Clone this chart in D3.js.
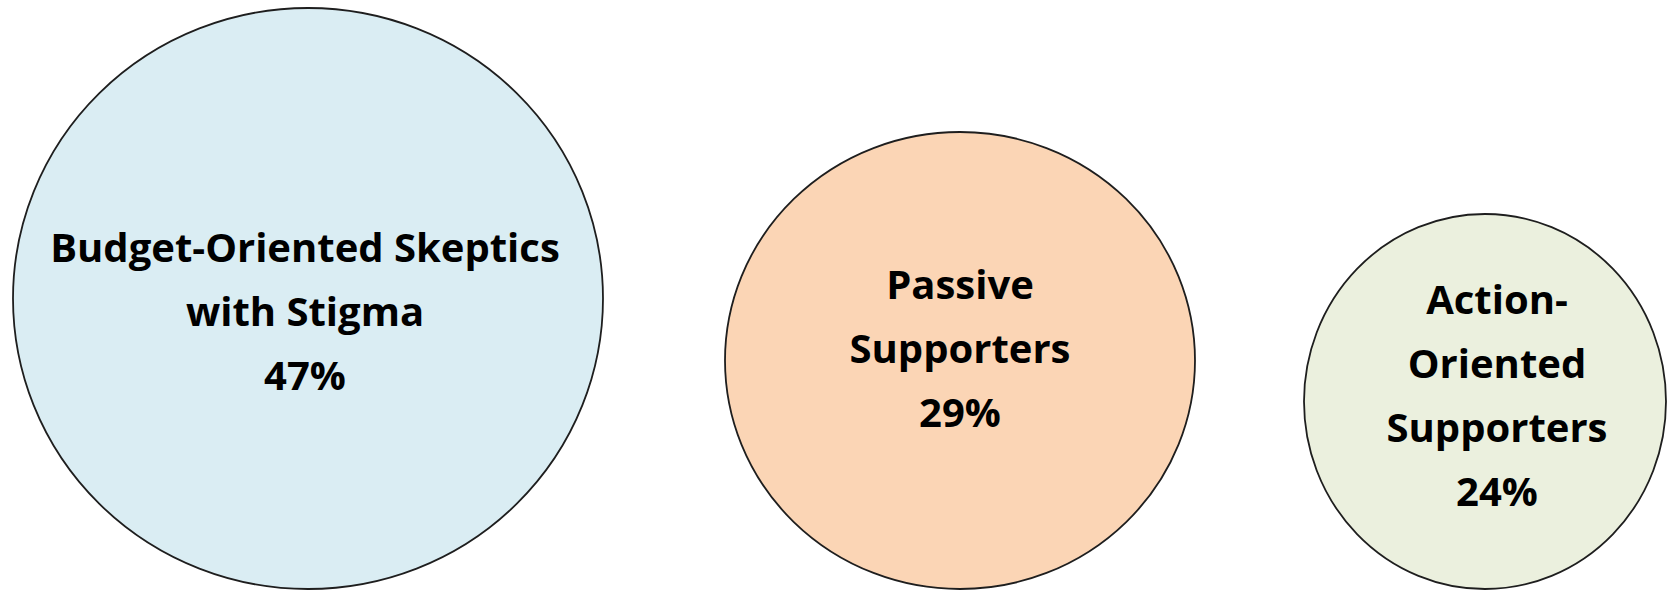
<!DOCTYPE html>
<html>
<head>
<meta charset="utf-8">
<script src="https://cdn.jsdelivr.net/npm/d3@7"></script>
<style>
  html, body { margin: 0; padding: 0; background: #ffffff; }
  svg { display: block; }
</style>
</head>
<body>
<svg id="chart" width="1667" height="591"></svg>
<script>
// ---- data ----
const segments = ["Budget-Oriented Skeptics with Stigma", "Passive Supporters", "Action-Oriented Supporters"];
const labelLines = [["Budget-Oriented Skeptics", "with Stigma"], ["Passive", "Supporters"], ["Action-", "Oriented", "Supporters"]];
const shares = [47, 29, 24];

// ---- layout ----
const W = 1667, H = 591;
const bottom = 589;
const svg = d3.select("#chart");

const x = d3.scaleOrdinal().domain(segments).range([308, 960, 1485]);
const rx = d3.scaleLinear().domain([24, 29, 47]).range([181, 235, 295]);
const ry = d3.scaleLinear().domain([24, 29, 47]).range([187.5, 228.5, 290.5]);
const fill = d3.scaleOrdinal().domain(segments).range(["#DAEDF3", "#FBD5B5", "#EBF0DE"]);
const labelDx = d3.scaleOrdinal().domain(segments).range([-3, 0, 12]);
const labelDy = d3.scaleOrdinal().domain(segments).range([14, -11, -5]);

const data = segments.map((s, i) => ({ name: s, lines: labelLines[i], value: shares[i] }));

const g = svg.selectAll("g.bubble").data(data).enter().append("g").attr("class", "bubble");

g.append("ellipse")
  .attr("cx", d => x(d.name))
  .attr("cy", d => bottom - ry(d.value))
  .attr("rx", d => rx(d.value))
  .attr("ry", d => ry(d.value))
  .attr("fill", d => fill(d.name))
  .attr("stroke", "#1e1e1e")
  .attr("stroke-width", 1.8);

const lineH = 64, capH = 27;
g.each(function(d) {
  const lines = d.lines.concat([d.value + "%"]);
  const cy = bottom - ry(d.value);
  const first = cy - (lines.length - 1) * lineH / 2 + capH / 2 + labelDy(d.name);
  const t = d3.select(this).append("text")
    .attr("text-anchor", "middle")
    .attr("font-family", "'Open Sans', sans-serif")
    .attr("font-weight", 700)
    .attr("font-size", 40)
    .attr("fill", "#000");
  lines.forEach((ln, j) => {
    t.append("tspan")
      .attr("x", x(d.name) + labelDx(d.name))
      .attr("y", first + j * lineH)
      .text(ln);
  });
});
</script>
</body>
</html>
